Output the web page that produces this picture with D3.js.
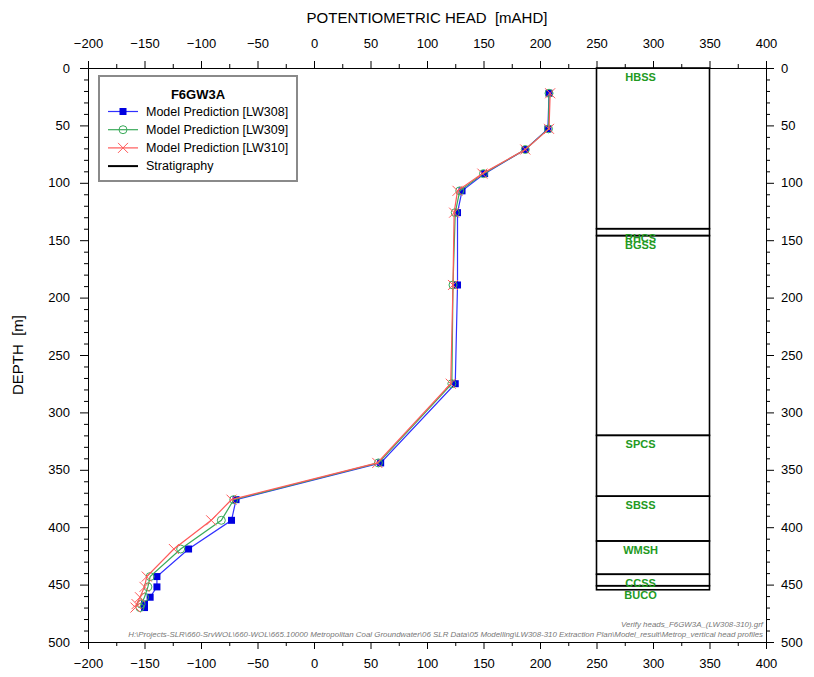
<!DOCTYPE html>
<html>
<head>
<meta charset="utf-8">
<script src="https://cdn.jsdelivr.net/npm/d3@7"></script>
<style>
  body { margin: 0; background: #fff; }
  svg { font-family: "Liberation Sans", Arial, sans-serif; }
</style>
</head>
<body>
<svg id="chart" width="814" height="677"></svg>
<script>
// depth of each observation point [m]
var depths = [22, 53, 71, 92, 107, 126, 189, 275, 344, 376, 394, 419, 443, 452, 461, 467, 470];

// potentiometric head [mAHD] per extraction scenario
var lw308 = [208, 207, 187, 151, 131, 127, 127, 125, 59, -69, -73, -111, -139, -139, -145, -150, -150];
var lw309 = [208, 207.5, 187, 150, 129, 125, 123, 122, 57, -71, -82, -118, -145, -147, -150, -153, -154];
var lw310 = [209, 208, 187, 149, 127, 124, 123, 121, 56, -73, -91, -124, -148, -150, -154, -157, -158];

// stratigraphy: unit names and top / bottom depth
var units = ["HBSS", "RHCS", "BGSS", "SPCS", "SBSS", "WMSH", "CCSS", "BUCO"];
var unitTop = [0, 140, 146, 320, 373, 412, 441, 451];
var unitBottom = [140, 146, 320, 373, 412, 441, 451, 454.5];
var stratLeft = 250, stratRight = 350;

var xTicks = d3.range(-200, 401, 50);
var yTicks = d3.range(0, 501, 50);

var margin = ({top: 68, right: 48, bottom: 35, left: 88});
var width = 814, height = 677;

var x = d3.scaleLinear()
    .domain([-200, 400])
    .range([margin.left, width - margin.right]);

var y = d3.scaleLinear()
    .domain([0, 500])
    .range([margin.top, height - margin.bottom]);

var svg = d3.select("#chart");

// axes, major and minor ticks
function styleAxis(g) {
    g.selectAll("path, line").attr("stroke", "#000");
    g.selectAll("text").attr("fill", "#000").style("font-size", "13px");
}

svg.append("g")
    .attr("transform", `translate(0,${y(0)})`)
    .call(d3.axisTop(x).tickValues(xTicks).tickSize(7).tickSizeOuter(0).tickPadding(13))
    .call(styleAxis);
svg.append("g")
    .attr("transform", `translate(0,${y(0)})`)
    .call(d3.axisTop(x).tickValues(d3.range(-175, 400, 50)).tickSize(4).tickSizeOuter(0).tickFormat(""))
    .call(styleAxis);

svg.append("g")
    .attr("transform", `translate(0,${y(500)})`)
    .call(d3.axisBottom(x).tickValues(xTicks).tickSize(7).tickSizeOuter(0).tickPadding(10))
    .call(styleAxis);
svg.append("g")
    .attr("transform", `translate(0,${y(500)})`)
    .call(d3.axisBottom(x).tickValues(d3.range(-175, 400, 50)).tickSize(4).tickSizeOuter(0).tickFormat(""))
    .call(styleAxis);

svg.append("g")
    .attr("transform", `translate(${x(-200)},0)`)
    .call(d3.axisLeft(y).tickValues(yTicks).tickSize(8).tickSizeOuter(0).tickPadding(10))
    .call(styleAxis);
svg.append("g")
    .attr("transform", `translate(${x(-200)},0)`)
    .call(d3.axisLeft(y).tickValues(d3.range(10, 500, 10).filter(d => d % 50)).tickSize(4).tickSizeOuter(0).tickFormat(""))
    .call(styleAxis);

svg.append("g")
    .attr("transform", `translate(${x(400)},0)`)
    .call(d3.axisRight(y).tickValues(yTicks).tickSize(8).tickSizeOuter(0).tickPadding(7))
    .call(styleAxis);
svg.append("g")
    .attr("transform", `translate(${x(400)},0)`)
    .call(d3.axisRight(y).tickValues(d3.range(10, 500, 10).filter(d => d % 50)).tickSize(4).tickSizeOuter(0).tickFormat(""))
    .call(styleAxis);

// axis titles
svg.append("text")
    .attr("x", (x(-200) + x(400)) / 2)
    .attr("y", 23)
    .attr("text-anchor", "middle")
    .style("font-size", "15px")
    .attr("xml:space", "preserve")
    .text("POTENTIOMETRIC HEAD  [mAHD]");

svg.append("text")
    .attr("transform", `translate(23,${(y(0) + y(500)) / 2}) rotate(-90)`)
    .attr("text-anchor", "middle")
    .style("font-size", "15px")
    .attr("xml:space", "preserve")
    .text("DEPTH  [m]");

// stratigraphy column
var strat = units.map((u, i) => ({name: u, top: unitTop[i], bottom: unitBottom[i]}));

svg.append("g")
    .selectAll("rect")
    .data(strat)
    .enter().append("rect")
    .attr("x", x(stratLeft))
    .attr("y", d => y(d.top))
    .attr("width", x(stratRight) - x(stratLeft))
    .attr("height", d => y(d.bottom) - y(d.top))
    .attr("fill", "none")
    .attr("stroke", "#000")
    .attr("stroke-width", 1.6);

svg.append("g")
    .attr("fill", "#229a22")
    .attr("text-anchor", "middle")
    .style("font-size", "11px")
    .style("font-weight", "bold")
    .selectAll("text")
    .data(strat)
    .enter().append("text")
    .attr("x", x(289))
    .attr("y", d => y(d.top + 8))
    .attr("dy", "0.35em")
    .text(d => d.name);

// model prediction profiles
var series = [
    {name: "Model Prediction [LW308]", values: lw308, color: "#3030ff", marker: "square"},
    {name: "Model Prediction [LW309]", values: lw309, color: "#3aaa5a", marker: "circle"},
    {name: "Model Prediction [LW310]", values: lw310, color: "#ff5a5a", marker: "cross"}
];

var line = d3.line()
    .x(d => x(d.head))
    .y(d => y(d.depth));

function drawMarker(g, type, color) {
    if(type == "square") {
        g.append("rect").attr("x", -3.5).attr("y", -3.5).attr("width", 7).attr("height", 7)
            .attr("fill", "#0000e0");
    }
    else if(type == "circle") {
        g.append("circle").attr("r", 4).attr("fill", "none")
            .attr("stroke", color).attr("stroke-width", 1);
    }
    else {
        g.append("path").attr("d", "M-5,-5L5,5M-5,5L5,-5")
            .attr("stroke", color).attr("stroke-width", 1);
    }
}

series.forEach(function(s) {
    var pts = depths.map((d, i) => ({depth: d, head: s.values[i]}));

    svg.append("path")
        .datum(pts)
        .attr("fill", "none")
        .attr("stroke", s.color)
        .attr("stroke-width", 1.2)
        .attr("d", line);

    svg.append("g")
        .selectAll("g")
        .data(pts)
        .enter().append("g")
        .attr("transform", d => `translate(${x(d.head)},${y(d.depth)})`)
        .each(function() { drawMarker(d3.select(this), s.marker, s.color); });
});

// legend
var legend = svg.append("g").attr("transform", "translate(99,76)");

legend.append("rect")
    .attr("width", 198)
    .attr("height", 105)
    .attr("fill", "#fff")
    .attr("stroke", "#8a8a8a")
    .attr("stroke-width", 2);

legend.append("text")
    .attr("x", 99)
    .attr("y", 18)
    .attr("dy", "0.35em")
    .attr("text-anchor", "middle")
    .style("font-size", "13px")
    .style("font-weight", "bold")
    .text("F6GW3A");

var entries = series.concat([{name: "Stratigraphy", color: "#000", marker: null}]);

entries.forEach(function(s, i) {
    var ly = 35.5 + i * 18.2;
    legend.append("line")
        .attr("x1", 9).attr("x2", 39)
        .attr("y1", ly).attr("y2", ly)
        .attr("stroke", s.color)
        .attr("stroke-width", s.marker ? 1.2 : 2);
    if(s.marker) {
        var m = legend.append("g").attr("transform", `translate(24,${ly})`);
        drawMarker(m, s.marker, s.color);
    }
    legend.append("text")
        .attr("x", 47)
        .attr("y", ly)
        .attr("dy", "0.35em")
        .style("font-size", "12.5px")
        .text(s.name);
});

// file path footer
var footer = [
    "Verify heads_F6GW3A_(LW308-310).grf",
    "H:\\Projects-SLR\\660-SrvWOL\\660-WOL\\665.10000 Metropolitan Coal Groundwater\\06 SLR Data\\05 Modelling\\LW308-310 Extraction Plan\\Model_result\\Metrop_vertical head profiles"
];

svg.append("g")
    .attr("fill", "#777")
    .attr("text-anchor", "end")
    .style("font-size", "7.9px")
    .style("font-style", "italic")
    .selectAll("text")
    .data(footer)
    .enter().append("text")
    .attr("x", x(400) - 3)
    .attr("y", (d, i) => 627 + i * 10)
    .text(d => d);
</script>
</body>
</html>
